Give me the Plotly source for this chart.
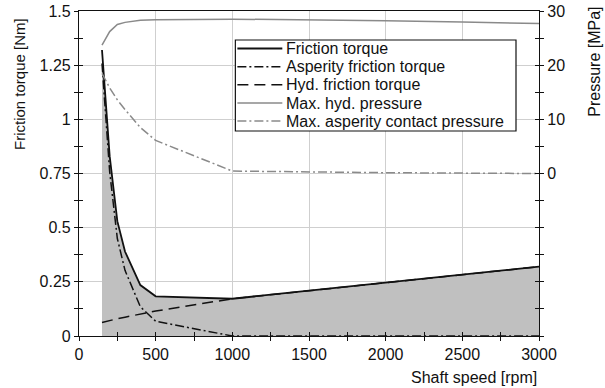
import plotly.graph_objects as go

speed = [150, 200, 250, 300, 400, 500, 1000, 1500, 2000, 2500, 3000]
friction_torque = [1.32, 0.83, 0.53, 0.39, 0.235, 0.183, 0.172, 0.209, 0.246, 0.283, 0.32]
asperity_torque = [1.258, 0.758, 0.45, 0.303, 0.135, 0.068, 0.0, 0.0, 0.0, 0.0, 0.0]
hyd_torque = [0.062, 0.072, 0.08, 0.087, 0.1, 0.115, 0.172, 0.209, 0.246, 0.283, 0.32]
max_hyd_pressure = [23.7, 26.2, 27.5, 27.9, 28.3, 28.4, 28.5, 28.4, 28.2, 27.95, 27.7]
max_asp_pressure = [18.5, 15.8, 13.6, 11.8, 8.5, 6.1, 0.45, 0.25, 0.15, 0.07, 0.0]

x_ticks = [0, 500, 1000, 1500, 2000, 2500, 3000]
y_ticks = [0, 0.25, 0.5, 0.75, 1, 1.25, 1.5]
y_ticklabels = ["0", "0.25", "0.5", "0.75", "1", "1.25", "1.5"]
p_ticks = [-30, -20, -10, 0, 10, 20, 30]
p_ticklabels = ["", "", "", "0", "10", "20", "30"]

legend_names = ["Friction torque", "Asperity friction torque", "Hyd. friction torque",
                "Max. hyd. pressure", "Max. asperity contact pressure"]

FONT = "Liberation Sans, Arial, sans-serif"
BLACK = "#111111"
GRAY = "#8a8a8a"
GRID = "#cfcfcf"
DASHDOT = "9px,3px,2px,3px"
DASH = "11px,6px"

legend_styles = [(BLACK, "solid", 1.8), (BLACK, DASHDOT, 1.5), (BLACK, DASH, 1.5),
                 (GRAY, "solid", 1.5), (GRAY, DASHDOT, 1.5)]

fig = go.Figure()

fig.add_trace(go.Scatter(x=speed, y=friction_torque, fill="tozeroy", fillcolor="#c0c0c0",
                         mode="none", showlegend=False, hoverinfo="skip"))
fig.add_trace(go.Scatter(x=speed, y=hyd_torque, mode="lines", name=legend_names[2],
                         line=dict(color=BLACK, width=1.5, dash=DASH)))
fig.add_trace(go.Scatter(x=speed, y=asperity_torque, mode="lines", name=legend_names[1],
                         line=dict(color=BLACK, width=1.5, dash=DASHDOT)))
fig.add_trace(go.Scatter(x=speed, y=friction_torque, mode="lines", name=legend_names[0],
                         line=dict(color=BLACK, width=1.8)))
fig.add_trace(go.Scatter(x=speed, y=max_hyd_pressure, mode="lines", name=legend_names[3],
                         line=dict(color=GRAY, width=1.5), yaxis="y2"))
fig.add_trace(go.Scatter(x=speed, y=max_asp_pressure, mode="lines", name=legend_names[4],
                         line=dict(color=GRAY, width=1.5, dash=DASHDOT), yaxis="y2"))

# invisible traces carrying the inner tick overlays
fig.add_trace(go.Scatter(x=[speed[0]], y=[friction_torque[0]], xaxis="x2", yaxis="y3",
                         mode="markers", marker=dict(opacity=0), hoverinfo="skip"))
fig.add_trace(go.Scatter(x=[speed[0]], y=[max_hyd_pressure[0]], xaxis="x2", yaxis="y4",
                         mode="markers", marker=dict(opacity=0), hoverinfo="skip"))

tickfont = dict(family=FONT, size=16, color=BLACK)

# legend drawn as a box with sample lines and text
lx0, lx1, ly0, ly1 = 0.3399, 0.950, 0.6308, 0.9108
row_y = [0.8846, 0.8286, 0.7729, 0.7169, 0.6615]
shapes = [dict(type="rect", xref="paper", yref="paper", x0=lx0, x1=lx1, y0=ly0, y1=ly1,
               fillcolor="white", line=dict(color=BLACK, width=1.2), layer="above")]
annotations = []
for name, (col, dash, w), ry in zip(legend_names, legend_styles, row_y):
    shapes.append(dict(type="line", xref="paper", yref="paper", x0=0.3443, x1=0.4420, y0=ry, y1=ry,
                       line=dict(color=col, width=w, dash=dash), layer="above"))
    annotations.append(dict(text=name, xref="paper", yref="paper", x=0.4460, y=ry, xanchor="left",
                            yanchor="middle", showarrow=False, font=dict(family=FONT, size=16, color=BLACK)))

annotations += [
    dict(text="Friction torque [Nm]", xref="paper", yref="paper", x=-0.128, y=0.985, xanchor="center",
         yanchor="top", textangle=-90, showarrow=False, font=dict(family=FONT, size=15, color=BLACK)),
    dict(text="Pressure [MPa]", xref="paper", yref="paper", x=1.12, y=1.02, xanchor="center",
         yanchor="top", textangle=-90, showarrow=False, font=dict(family=FONT, size=16, color=BLACK)),
    dict(text="Shaft speed [rpm]", xref="paper", yref="paper", x=1.0, y=-0.095, xanchor="right",
         yanchor="top", showarrow=False, font=dict(family=FONT, size=16, color=BLACK)),
]

fig.update_layout(
    width=605, height=388,
    margin=dict(l=78.5, r=66, t=11, b=52, autoexpand=False),
    paper_bgcolor="white", plot_bgcolor="white",
    font=dict(family=FONT, size=16, color=BLACK),
    showlegend=False,
    shapes=shapes, annotations=annotations,
    xaxis=dict(range=[0, 3000], tickvals=x_ticks, ticks="outside", ticklen=4, tickwidth=1,
               tickcolor=BLACK, minor=dict(dtick=250, ticks="outside", ticklen=4, tickcolor=BLACK, showgrid=False),
               showline=True, linecolor=BLACK, linewidth=1.2, mirror=True, automargin=False,
               showgrid=True, gridcolor=GRID, gridwidth=1, zeroline=False, tickfont=tickfont),
    xaxis2=dict(range=[0, 3000], overlaying="x", matches="x", tickvals=x_ticks, ticks="inside", ticklen=4,
                tickcolor=BLACK, minor=dict(dtick=250, ticks="inside", ticklen=4, tickcolor=BLACK),
                showticklabels=False, showgrid=False, showline=False, zeroline=False, automargin=False),
    yaxis=dict(range=[0, 1.5], tickvals=y_ticks, ticktext=y_ticklabels, ticks="outside", ticklen=4,
               tickcolor=BLACK, minor=dict(dtick=0.125, ticks="outside", ticklen=4, tickcolor=BLACK, showgrid=False),
               showline=True, linecolor=BLACK, linewidth=1.2, automargin=False,
               showgrid=True, gridcolor=GRID, gridwidth=1, zeroline=False, tickfont=tickfont),
    yaxis2=dict(range=[-30, 30], overlaying="y", side="right", tickvals=p_ticks, ticktext=p_ticklabels,
                ticks="outside", ticklen=4, tickcolor=BLACK, automargin=False,
                minor=dict(dtick=5, ticks="outside", ticklen=4, tickcolor=BLACK, showgrid=False),
                showline=True, linecolor=BLACK, linewidth=1.2, showgrid=False, zeroline=False, tickfont=tickfont),
    yaxis3=dict(range=[0, 1.5], overlaying="y", tickvals=y_ticks, ticks="inside", ticklen=4, tickcolor=BLACK,
                minor=dict(dtick=0.125, ticks="inside", ticklen=4, tickcolor=BLACK), automargin=False,
                showticklabels=False, showgrid=False, showline=False, zeroline=False),
    yaxis4=dict(range=[-30, 30], overlaying="y", side="right", tickvals=p_ticks, ticks="inside", ticklen=4,
                tickcolor=BLACK, minor=dict(dtick=5, ticks="inside", ticklen=4, tickcolor=BLACK), automargin=False,
                showticklabels=False, showgrid=False, showline=False, zeroline=False),
)

fig.write_html("out.html")
